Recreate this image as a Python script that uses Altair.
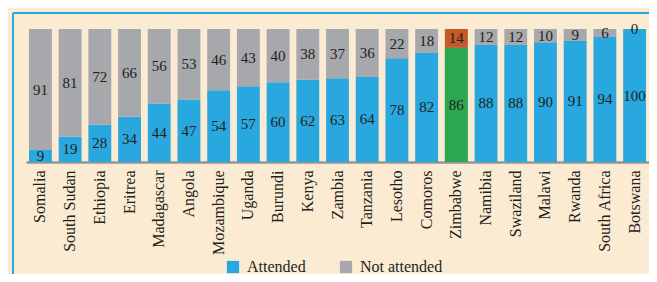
import altair as alt
import pandas as pd

countries = ["Somalia", "South Sudan", "Ethiopia", "Eritrea", "Madagascar", "Angola",
             "Mozambique", "Uganda", "Burundi", "Kenya", "Zambia", "Tanzania", "Lesotho",
             "Comoros", "Zimbabwe", "Namibia", "Swaziland", "Malawi", "Rwanda",
             "South Africa", "Botswana"]
attended = [9, 19, 28, 34, 44, 47, 54, 57, 60, 62, 63, 64, 78, 82, 86, 88, 88, 90, 91, 94, 100]
not_attended = [91, 81, 72, 66, 56, 53, 46, 43, 40, 38, 37, 36, 22, 18, 14, 12, 12, 10, 9, 6, 0]
series = ["Attended", "Not attended"]
highlight = "Zimbabwe"

BLUE = "#29a7df"
GRAY = "#a6a8ab"
GREEN = "#2aa74f"
ORANGE = "#c45a27"
BG = "#fbebd2"
FRAME = "#1eaee6"
TXT = "#231f20"
FONT = "Liberation Serif"

rows = []
for c, a, n in zip(countries, attended, not_attended):
    hl = c == highlight
    rows.append({"Country": c, "series": series[0], "value": a, "ord": 0,
                 "mid": a / 2, "hl": hl, "fill": GREEN if hl else BLUE})
    rows.append({"Country": c, "series": series[1], "value": n, "ord": 1,
                 "mid": a + n / 2, "hl": hl, "fill": ORANGE if hl else GRAY})
df = pd.DataFrame(rows)

W, H = 623, 133

xenc = alt.X("Country:N", sort=countries,
             scale=alt.Scale(paddingInner=0.23, paddingOuter=0.1),
             axis=alt.Axis(title=None, labelAngle=270, labelAlign="right",
                           labelBaseline="middle", labelFont=FONT, labelFontSize=16,
                           labelColor=TXT, labelPadding=8, ticks=False,
                           domainColor="#969696", domainWidth=2.5))
yscale = alt.Scale(domain=[0, 100], nice=False, zero=True)

base = alt.Chart(df)

bars = base.mark_bar().encode(
    x=xenc,
    y=alt.Y("value:Q", stack="zero", scale=yscale, axis=None),
    order=alt.Order("ord:Q", sort="ascending"),
    color=alt.Color("series:N", scale=alt.Scale(domain=series, range=[BLUE, GRAY]),
                    legend=alt.Legend(title=None, orient="none", direction="horizontal",
                                      legendX=199, legendY=230, symbolType="square",
                                      symbolSize=150, symbolStrokeWidth=0,
                                      labelFont=FONT, labelFontSize=16, labelColor=TXT,
                                      columnPadding=32, labelOffset=6)),
)

hl_bars = base.transform_filter("datum.hl").mark_bar().encode(
    x=alt.X("Country:N", sort=countries),
    y=alt.Y("value:Q", stack="zero", scale=yscale),
    order=alt.Order("ord:Q", sort="ascending"),
    color=alt.Color("fill:N", scale=None),
)

labels = base.mark_text(font=FONT, fontSize=15, color=TXT, baseline="middle").encode(
    x=alt.X("Country:N", sort=countries),
    y=alt.Y("mid:Q", scale=yscale),
    text=alt.Text("value:Q"),
)

frame_left = alt.Chart(df).mark_rule(color=FRAME, strokeWidth=2).encode(
    x=alt.value(-13), y=alt.value(-16), y2=alt.value(260))
frame_top = alt.Chart(df).mark_rule(color=FRAME, strokeWidth=2).encode(
    x=alt.value(-13), x2=alt.value(W + 10), y=alt.value(-16))

chart = alt.layer(frame_left, frame_top, bars, hl_bars, labels).properties(
    width=W, height=H, background=BG,
    padding={"left": 18, "top": 21, "right": 0, "bottom": 112},
    autosize=alt.AutoSizeParams(type="none"),
).configure_view(stroke=None)

chart.save("out.html", embed_options={"renderer": "svg", "actions": False})
